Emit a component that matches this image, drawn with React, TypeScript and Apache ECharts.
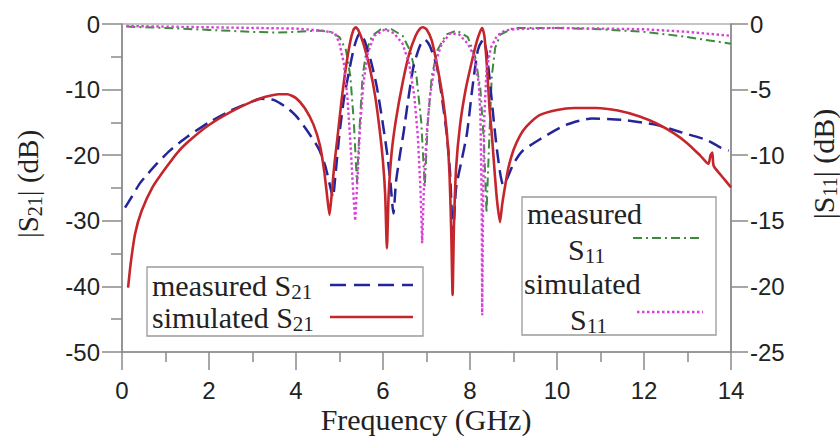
import React, { useEffect, useRef } from "react";
import * as echarts from "echarts";

// Frequency (GHz) / magnitude (dB) pairs for each trace
const measuredS21: [number, number][] = [
  [0.07, -28.0], [0.2, -26.6], [0.41, -24.3], [0.6, -22.8], [0.8, -21.3], [1.1, -19.3],
  [1.5, -17.2], [2.0, -15.0], [2.5, -13.2], [3.0, -11.8], [3.2, -11.4], [3.5, -11.6],
  [3.8, -12.8], [4.0, -14.0], [4.25, -16.2], [4.45, -18.2], [4.55, -19.4], [4.68, -21.8],
  [4.78, -24.6], [4.85, -26.4], [4.9, -23.5], [5.0, -16.7], [5.1, -11.5], [5.24, -6.5],
  [5.35, -3.2], [5.47, -1.4], [5.58, -2.6], [5.72, -5.6], [5.85, -9.3], [5.98, -14.5],
  [6.09, -19.5], [6.17, -24.0], [6.24, -28.9], [6.3, -24.0], [6.4, -19.5], [6.47, -16.7],
  [6.58, -11.5], [6.7, -6.5], [6.85, -3.3], [6.97, -2.4], [7.08, -3.4], [7.24, -6.5],
  [7.35, -11.0], [7.47, -17.0], [7.54, -22.5], [7.61, -31.9], [7.68, -25.0], [7.8, -21.0],
  [7.93, -16.7], [8.05, -10.0], [8.18, -4.0], [8.3, -2.4], [8.38, -4.2], [8.46, -9.0],
  [8.55, -15.0], [8.62, -19.2], [8.7, -23.0], [8.76, -24.5], [8.85, -23.6], [9.0, -21.3],
  [9.2, -19.4], [9.6, -17.6], [10.2, -15.4], [10.8, -14.4], [11.5, -14.6], [12.3, -15.4],
  [12.85, -16.5], [13.45, -17.7], [13.75, -18.8], [13.95, -19.3],
];

const simulatedS21: [number, number][] = [
  [0.14, -40.2], [0.2, -36.5], [0.3, -32.0], [0.45, -28.5], [0.7, -24.9], [1.0, -22.0],
  [1.3, -19.4], [1.6, -17.5], [2.0, -15.4], [2.5, -13.4], [3.0, -11.8], [3.3, -11.1],
  [3.6, -10.7], [3.8, -10.7], [4.0, -11.3], [4.2, -12.8], [4.4, -15.3], [4.55, -18.5],
  [4.65, -22.5], [4.72, -26.5], [4.77, -29.1], [4.82, -26.0], [4.88, -21.5], [4.95, -17.5],
  [5.05, -11.5], [5.15, -6.5], [5.25, -2.6], [5.32, -0.9], [5.37, -0.5], [5.43, -0.9],
  [5.55, -3.0], [5.7, -6.8], [5.82, -11.0], [5.93, -16.5], [6.0, -21.0], [6.05, -26.0],
  [6.09, -34.2], [6.13, -26.0], [6.2, -19.5], [6.3, -14.5], [6.45, -9.0], [6.6, -4.6],
  [6.75, -1.8], [6.85, -0.7], [6.92, -0.5], [7.0, -0.8], [7.12, -2.5], [7.25, -6.5],
  [7.38, -11.5], [7.47, -16.7], [7.53, -23.0], [7.57, -32.0], [7.6, -41.3], [7.63, -31.0],
  [7.68, -22.0], [7.77, -15.5], [7.9, -10.0], [8.05, -5.5], [8.15, -2.8], [8.23, -1.2],
  [8.28, -0.6], [8.33, -1.8], [8.39, -6.5], [8.45, -13.0], [8.5, -16.7], [8.56, -22.0],
  [8.62, -26.8], [8.69, -30.2], [8.74, -27.5], [8.8, -25.0], [8.88, -22.0], [9.0, -19.2],
  [9.15, -17.0], [9.3, -15.6], [9.6, -13.9], [10.0, -13.1], [10.4, -12.8], [10.9, -12.8],
  [11.4, -13.2], [11.9, -14.1], [12.3, -15.2], [12.7, -16.7], [13.0, -18.2], [13.3, -20.1],
  [13.48, -21.3], [13.53, -20.0], [13.57, -19.6], [13.6, -21.6], [13.75, -22.9],
  [13.9, -24.1], [14.0, -24.9],
];

const measuredS11: [number, number][] = [
  [0.1, -0.2], [0.5, -0.25], [1.0, -0.3], [2.0, -0.45], [3.0, -0.6], [3.5, -0.65],
  [4.0, -0.6], [4.5, -0.5], [4.8, -0.6], [5.0, -1.0], [5.15, -2.0], [5.25, -4.0],
  [5.33, -7.5], [5.4, -12.1], [5.46, -8.0], [5.53, -4.0], [5.62, -2.0], [5.75, -0.9],
  [5.95, -0.4], [6.2, -0.4], [6.45, -0.9], [6.62, -2.0], [6.77, -4.0], [6.88, -7.5],
  [6.96, -12.4], [7.03, -7.5], [7.12, -4.0], [7.25, -2.0], [7.45, -0.8], [7.7, -0.5],
  [7.95, -1.0], [8.12, -2.5], [8.24, -5.0], [8.32, -9.0], [8.38, -14.4], [8.44, -9.0],
  [8.5, -4.0], [8.58, -1.8], [8.7, -0.8], [9.0, -0.3], [10.0, -0.3], [11.0, -0.4],
  [12.0, -0.6], [12.8, -0.9], [13.4, -1.2], [14.0, -1.5],
];

const simulatedS11: [number, number][] = [
  [0.1, -0.15], [1.0, -0.2], [2.0, -0.25], [3.0, -0.3], [4.0, -0.35], [4.6, -0.5],
  [4.9, -0.7], [5.0, -1.5], [5.1, -3.0], [5.18, -5.5], [5.25, -9.0], [5.31, -12.5],
  [5.36, -15.0], [5.41, -12.0], [5.47, -8.0], [5.55, -4.5], [5.65, -2.2], [5.8, -0.9],
  [6.05, -0.4], [6.25, -0.7], [6.45, -1.5], [6.6, -3.0], [6.72, -5.5], [6.8, -8.5],
  [6.86, -12.5], [6.9, -16.7], [6.94, -12.5], [7.0, -8.5], [7.08, -5.5], [7.2, -3.0],
  [7.35, -1.5], [7.55, -0.7], [7.75, -0.8], [7.95, -1.5], [8.1, -2.5], [8.2, -4.5],
  [8.24, -7.0], [8.27, -14.0], [8.28, -22.2], [8.3, -14.0], [8.33, -7.0], [8.38, -3.5],
  [8.48, -1.8], [8.62, -0.9], [8.8, -0.5], [9.0, -0.4], [10.0, -0.3], [11.0, -0.35],
  [12.0, -0.4], [13.0, -0.6], [13.5, -0.75], [14.0, -0.9],
];

const freqTicks = { min: 0, max: 14, interval: 2 };
const s21Ticks = { min: -50, max: 0, interval: 10 };
const s11Ticks = { min: -25, max: 0, interval: 5 };

const AXIS_GRAY = "#8a8a8a";
const TEXT = "#222";
const SANS = "'Liberation Sans', Arial, sans-serif";
const SERIF = "'Liberation Serif', 'Times New Roman', serif";

const BLUE = "#25259a";
const RED = "#c4262b";
const GREEN = "#3d8a3d";
const PINK = "#d942d9";

const axisLine = { show: true, onZero: false, lineStyle: { color: AXIS_GRAY, width: 1.5 } };
const tickLine = { color: AXIS_GRAY, width: 1.5 };
const tickLabel = { fontFamily: SANS, fontSize: 24, color: TEXT };

// rich-text pieces: regular serif text and a subscript dropped to the line bottom
const richSerif = (size: number, sub: number, lh = size + 3) => ({
  m: { fontFamily: SERIF, fontSize: size, lineHeight: lh, fill: TEXT },
  s: { fontFamily: SERIF, fontSize: sub, verticalAlign: "bottom", lineHeight: sub, fill: TEXT },
});

const txt = (x: number, y: number, text: string, size = 30) => ({
  type: "text",
  x,
  y,
  z: 100,
  style: {
    text,
    align: "left",
    verticalAlign: "middle",
    rich: richSerif(size, 21, 35),
  },
});

const legendLine = (x1: number, x2: number, y: number, color: string, dash: number[], width = 2.5) => ({
  type: "line",
  z: 100,
  shape: { x1, y1: y, x2, y2: y },
  style: { stroke: color, lineWidth: width, lineDash: dash },
});

export default function App() {
  const ref = useRef<HTMLDivElement>(null);

  useEffect(() => {
    const chart = echarts.init(ref.current!, null, { renderer: "svg" });
    chart.setOption({
      animation: false,
      backgroundColor: "#ffffff",
      grid: {
        left: 122,
        right: 109,
        top: 24,
        bottom: 88,
        show: true,
        borderColor: AXIS_GRAY,
        borderWidth: 1.2,
        backgroundColor: "transparent",
      },
      xAxis: {
        type: "value",
        ...freqTicks,
        axisLine,
        axisTick: { show: true, length: 18, lineStyle: tickLine },
        minorTick: { show: true, splitNumber: 2, length: 10, lineStyle: tickLine },
        splitLine: { show: false },
        axisLabel: { ...tickLabel, margin: 26 },
      },
      yAxis: [
        {
          type: "value",
          position: "left",
          ...s21Ticks,
          axisLine,
          axisTick: { show: true, length: 20, lineStyle: tickLine },
          minorTick: { show: true, splitNumber: 2, length: 11, lineStyle: tickLine },
          splitLine: { show: false },
          axisLabel: { ...tickLabel, margin: 22 },
        },
        {
          type: "value",
          position: "right",
          ...s11Ticks,
          axisLine,
          axisTick: { show: true, length: 17, lineStyle: tickLine },
          splitLine: { show: false },
          axisLabel: { ...tickLabel, margin: 19 },
        },
      ],
      series: [
        {
          name: "measured S11",
          type: "line",
          yAxisIndex: 1,
          data: measuredS11,
          symbol: "none",
          lineStyle: { color: GREEN, width: 2, type: [9, 4, 2, 4] },
        },
        {
          name: "measured S21",
          type: "line",
          yAxisIndex: 0,
          data: measuredS21,
          symbol: "none",
          smooth: 0.2,
          lineStyle: { color: BLUE, width: 2.5, type: [14, 7] },
        },
        {
          name: "simulated S21",
          type: "line",
          yAxisIndex: 0,
          data: simulatedS21,
          symbol: "none",
          smooth: 0.2,
          lineStyle: { color: RED, width: 2.6 },
        },
        {
          name: "simulated S11",
          type: "line",
          yAxisIndex: 1,
          data: simulatedS11,
          symbol: "none",
          lineStyle: { color: PINK, width: 2.4, type: [2.5, 2.5] },
        },
      ],
      graphic: [
        // axis titles
        {
          type: "text",
          x: 426,
          y: 419,
          style: {
            text: "Frequency (GHz)",
            fontFamily: SERIF,
            fontSize: 30,
            fill: TEXT,
            align: "center",
            verticalAlign: "middle",
          },
        },
        {
          type: "text",
          x: 28,
          y: 184,
          rotation: Math.PI / 2,
          style: {
            text: "{m||S}{s|21}{m|| (dB)}",
            align: "center",
            verticalAlign: "middle",
            rich: richSerif(29, 20, 33),
          },
        },
        {
          type: "text",
          x: 823,
          y: 164,
          rotation: Math.PI / 2,
          style: {
            text: "{m||S}{s|11}{m|| (dB)}",
            align: "center",
            verticalAlign: "middle",
            rich: richSerif(30, 20, 34),
          },
        },
        // S21 legend
        {
          type: "rect",
          z: 90,
          shape: { x: 147, y: 267, width: 276, height: 69 },
          style: { fill: "#ffffff", stroke: "#9a9a9a", lineWidth: 1.3 },
        },
        txt(152, 285, "{m|measured S}{s|21}"),
        txt(152, 317, "{m|simulated S}{s|21}"),
        legendLine(330, 413, 285, BLUE, [16, 8]),
        legendLine(330, 413, 317, RED, []),
        // S11 legend
        {
          type: "rect",
          z: 90,
          shape: { x: 522, y: 197, width: 194, height: 138 },
          style: { fill: "#ffffff", stroke: "#9a9a9a", lineWidth: 1.3 },
        },
        txt(527, 213, "{m|measured}"),
        txt(568, 249, "{m|S}{s|11}"),
        txt(524, 283, "{m|simulated}"),
        txt(570, 319, "{m|S}{s|11}"),
        legendLine(633, 703, 238, GREEN, [9, 4, 2, 4], 2),
        legendLine(637, 703, 312, PINK, [2.5, 2.5], 2.4),
      ],
    });
    return () => chart.dispose();
  }, []);

  return (
    <div
      ref={ref}
      style={{ position: "absolute", left: 0, top: 0, width: 840, height: 440 }}
    />
  );
}
